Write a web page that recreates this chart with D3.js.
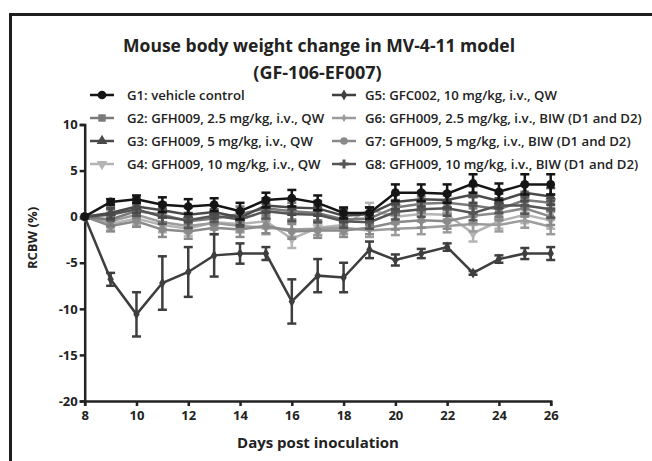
<!doctype html>
<html lang="en">
<head>
<meta charset="utf-8">
<title>Mouse body weight change</title>
<style>
body { margin: 0; background: #fff; }
svg text { font-family: "Open Sans", "DejaVu Sans", sans-serif; fill: #222; }
</style>
<script src="https://d3js.org/d3.v7.min.js"></script>
</head>
<body>
<div class="chart"></div>
<script>
// data
let days = [8, 9, 10, 11, 12, 13, 14, 15, 16, 17, 18, 19, 20, 21, 22, 23, 24, 25, 26];
let xTicks = [8, 10, 12, 14, 16, 18, 20, 22, 24, 26];
let yTicks = [10, 5, 0, -5, -10, -15, -20];

let groupNames = [
  "G1: vehicle control",
  "G2: GFH009, 2.5 mg/kg, i.v., QW",
  "G3: GFH009, 5 mg/kg, i.v., QW",
  "G4: GFH009, 10 mg/kg, i.v., QW",
  "G5: GFC002, 10 mg/kg, i.v., QW",
  "G6: GFH009, 2.5 mg/kg, i.v., BIW (D1 and D2)",
  "G7: GFH009, 5 mg/kg, i.v., BIW (D1 and D2)",
  "G8: GFH009, 10 mg/kg, i.v., BIW (D1 and D2)"
];

let g1Mean = [0, 1.6, 1.9, 1.3, 1.1, 1.3, 0.6, 1.8, 2.0, 1.5, 0.4, 0.4, 2.6, 2.6, 2.5, 3.6, 2.7, 3.5, 3.5];
let g1Err  = [0, 0.3, 0.4, 0.8, 0.8, 0.7, 0.9, 0.8, 0.9, 0.8, 0.6, 0.6, 0.9, 0.9, 1.0, 1.0, 0.9, 1.1, 1.1];
let g2Mean = [0, -0.3, 0.6, 0.2, -0.5, -0.2, 0.3, 0.9, 0.6, 0.4, -0.3, -0.2, 1.0, 1.4, 1.5, 1.2, 0.8, 1.8, 1.5];
let g2Err  = [0, 0.7, 0.7, 0.8, 0.8, 0.7, 0.8, 0.8, 0.9, 0.8, 0.7, 0.7, 0.8, 0.8, 0.8, 0.9, 0.8, 0.9, 0.9];
let g3Mean = [0, 0.4, 1.1, 0.7, 0.2, 0.5, -0.1, 1.2, 1.0, 0.9, 0.1, 0.3, 1.6, 1.9, 1.8, 2.4, 1.7, 2.6, 2.2];
let g3Err  = [0, 0.6, 0.7, 0.8, 0.8, 0.7, 0.8, 0.8, 0.8, 0.8, 0.7, 0.7, 0.8, 0.8, 0.8, 0.9, 0.8, 0.9, 0.9];
let g4Mean = [0, -0.8, -0.2, -0.9, -1.3, -0.6, -0.8, -0.5, -2.4, -1.2, -0.9, 0.8, 0.0, 0.3, 0.2, -1.8, -0.5, 0.2, -0.4];
let g4Err  = [0, 0.6, 0.7, 0.8, 0.8, 0.7, 0.8, 0.8, 1.0, 0.8, 0.7, 0.7, 0.8, 0.8, 0.8, 0.9, 0.8, 0.9, 0.9];
let g5Mean = [0, -6.8, -10.6, -7.2, -6.0, -4.2, -4.0, -4.0, -9.2, -6.4, -6.6, -3.6, -4.7, -4.0, -3.3, -6.1, -4.6, -4.0, -4.0];
let g5Err  = [0, 0.7, 2.4, 2.9, 2.7, 2.3, 1.1, 0.7, 2.4, 1.8, 1.6, 0.9, 0.6, 0.5, 0.4, 0.2, 0.4, 0.6, 0.7];
let g6Mean = [0, -0.5, 0.2, -0.6, -1.0, -0.7, -1.0, -1.2, -1.4, -1.3, -1.2, -1.5, -1.3, -1.2, -1.0, -0.8, -0.9, -0.4, -1.1];
let g6Err  = [0, 0.6, 0.6, 0.7, 0.7, 0.7, 0.7, 0.7, 0.8, 0.7, 0.7, 0.7, 0.7, 0.7, 0.7, 0.8, 0.7, 0.8, 0.8];
let g7Mean = [0, -1.0, -0.5, -1.4, -1.6, -1.2, -1.4, -1.0, -1.6, -1.5, -1.5, -1.2, -0.6, -0.4, -0.5, 0.1, 0.4, 0.9, 0.0];
let g7Err  = [0, 0.6, 0.6, 0.8, 0.8, 0.7, 0.8, 0.8, 0.8, 0.8, 0.7, 0.7, 0.8, 0.8, 0.8, 0.8, 0.8, 0.9, 0.9];
let g8Mean = [0, 0.2, 0.8, 0.0, -0.4, 0.1, -0.3, 0.6, 0.3, 0.2, -0.5, -0.6, 0.5, 0.8, 0.9, 0.4, 1.2, 1.2, 0.8];
let g8Err  = [0, 0.6, 0.7, 0.8, 0.8, 0.7, 0.8, 0.8, 0.8, 0.8, 0.7, 0.7, 0.8, 0.8, 0.8, 0.8, 0.8, 0.9, 0.9];

let groups = [
  { name: groupNames[0], mean: g1Mean, err: g1Err, color: "#151515", shape: d3.symbolCircle, size: 60 },
  { name: groupNames[1], mean: g2Mean, err: g2Err, color: "#7a7a7a", shape: d3.symbolSquare, size: 55 },
  { name: groupNames[2], mean: g3Mean, err: g3Err, color: "#4a4a4a", shape: d3.symbolTriangle, size: 50 },
  { name: groupNames[3], mean: g4Mean, err: g4Err, color: "#b4b4b4", shape: d3.symbolTriangle, size: 50, flip: true },
  { name: groupNames[4], mean: g5Mean, err: g5Err, color: "#3e3e3e", shape: d3.symbolDiamond, size: 35 },
  { name: groupNames[5], mean: g6Mean, err: g6Err, color: "#9c9c9c", shape: d3.symbolDiamond, size: 20 },
  { name: groupNames[6], mean: g7Mean, err: g7Err, color: "#8a8a8a", shape: d3.symbolCircle, size: 45 },
  { name: groupNames[7], mean: g8Mean, err: g8Err, color: "#555555", shape: d3.symbolCross, size: 45 }
];

let W = 652, H = 461;
let svg = d3.select(".chart").append("svg")
  .attr("width", W).attr("height", H);

// frame, cut off on the right and bottom
svg.append("rect")
  .attr("x", 10.5).attr("y", 14.5)
  .attr("width", W).attr("height", H)
  .attr("fill", "#fff").attr("stroke", "#1e1e1e").attr("stroke-width", 3);

let x = d3.scaleLinear().domain([8, 26]).range([84.7, 550.7]);
let y = d3.scaleLinear().domain([-20, 10]).range([401, 124.5]);

// title (squeezed to the width of the original narrow face)
svg.append("text").attr("x", 319).attr("y", 52)
  .attr("text-anchor", "middle").style("font-size", "18px").style("font-weight", 700)
  .attr("textLength", 392).attr("lengthAdjust", "spacingAndGlyphs")
  .text("Mouse body weight change in MV-4-11 model");
svg.append("text").attr("x", 317.5).attr("y", 79)
  .attr("text-anchor", "middle").style("font-size", "18px").style("font-weight", 700)
  .text("(GF-106-EF007)");

// axes
let xAxis = svg.append("g").attr("transform", "translate(0," + 401 + ")")
  .call(d3.axisBottom(x).tickValues(xTicks).tickSize(5).tickPadding(5).tickFormat(d => String(d)));
let yAxis = svg.append("g").attr("transform", "translate(" + 84.7 + ",0)")
  .call(d3.axisLeft(y).tickValues(yTicks).tickSize(5).tickPadding(2).tickFormat(d => String(d)));
[xAxis, yAxis].forEach(a => {
  a.select(".domain").attr("stroke", "#222").attr("stroke-width", 2.5);
  a.selectAll(".tick line").attr("stroke", "#222").attr("stroke-width", 2.5);
  a.selectAll(".tick text").style("font-size", "13px").style("font-weight", 700)
    .style("font-family", "'Open Sans', sans-serif").attr("fill", "#222");
});

svg.append("text").attr("x", 318).attr("y", 448)
  .attr("text-anchor", "middle").style("font-size", "15px").style("font-weight", 700)
  .text("Days post inoculation");
svg.append("text")
  .attr("transform", "translate(37,238) rotate(-90)")
  .attr("text-anchor", "middle").style("font-size", "13px").style("font-weight", 700)
  .text("RCBW (%)");

function marker(g) {
  return d3.symbol().type(g.shape).size(g.size)();
}

let line = d3.line().x(d => x(d.day)).y(d => y(d.v));

// draw order: cluster first, then G5, then G1 on top
let order = [3, 5, 6, 1, 7, 2, 4, 0];
let plot = svg.append("g");
order.forEach(i => {
  let g = groups[i];
  let pts = days.map((d, k) => ({ day: d, v: g.mean[k], e: g.err[k] }));
  let grp = plot.append("g");
  let eb = grp.selectAll("g.eb").data(pts.filter(p => p.e > 0)).enter().append("g");
  eb.append("line")
    .attr("x1", d => x(d.day)).attr("x2", d => x(d.day))
    .attr("y1", d => y(d.v - d.e)).attr("y2", d => y(d.v + d.e))
    .attr("stroke", g.color).attr("stroke-width", 2.5);
  [1, -1].forEach(s => {
    eb.append("line")
      .attr("x1", d => x(d.day) - 4.5).attr("x2", d => x(d.day) + 4.5)
      .attr("y1", d => y(d.v + s * d.e)).attr("y2", d => y(d.v + s * d.e))
      .attr("stroke", g.color).attr("stroke-width", 2.5);
  });
  grp.append("path").datum(pts).attr("d", line)
    .attr("fill", "none").attr("stroke", g.color).attr("stroke-width", 2.5);
  grp.selectAll("path.m").data(pts).enter().append("path")
    .attr("d", marker(g))
    .attr("transform", d => "translate(" + x(d.day) + "," + y(d.v) + ")" + (g.flip ? " rotate(180)" : ""))
    .attr("fill", g.color);
});

// legend, two columns
let legRows = [95, 118, 141, 164];
let legend = svg.append("g");
groups.forEach((g, i) => {
  let col = Math.floor(i / 4), row = i % 4;
  let x0 = col === 0 ? 90 : 332;
  let yy = legRows[row];
  let item = legend.append("g");
  item.append("line").attr("x1", x0).attr("x2", x0 + 24).attr("y1", yy).attr("y2", yy)
    .attr("stroke", g.color).attr("stroke-width", 2.5);
  item.append("path").attr("d", marker(g))
    .attr("transform", "translate(" + (x0 + 12) + "," + yy + ")" + (g.flip ? " rotate(180)" : ""))
    .attr("fill", g.color);
  item.append("text").attr("x", col === 0 ? 127 : 365).attr("y", yy + 4.5)
    .style("font-size", "13.2px").style("font-weight", 600)
    .text(g.name);
});
</script>
</body>
</html>
